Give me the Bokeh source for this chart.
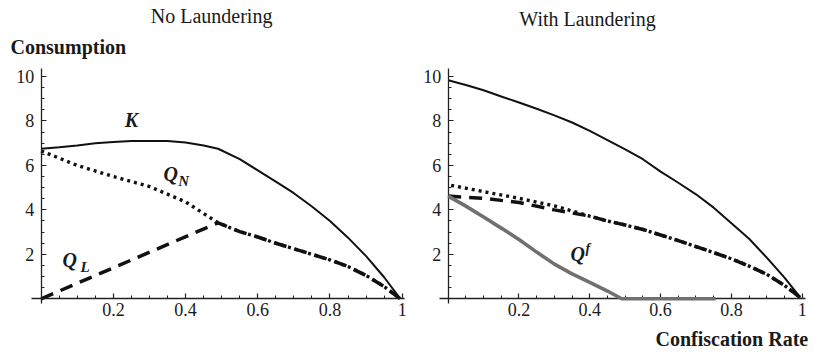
from bokeh.plotting import figure
from bokeh.layouts import row
from bokeh.models import FixedTicker, Label
from bokeh.embed import file_html
from bokeh.resources import INLINE

# ---------------- data ----------------
# Left panel: No Laundering
xl_K = [0, 0.05, 0.1, 0.15, 0.2, 0.25, 0.3, 0.35, 0.4, 0.45, 0.49, 0.55, 0.6, 0.65, 0.7, 0.75, 0.8, 0.85, 0.9, 0.95, 0.995]
K_left = [6.75, 6.82, 6.9, 7.0, 7.05, 7.1, 7.1, 7.1, 7.03, 6.9, 6.75, 6.28, 5.78, 5.27, 4.75, 4.15, 3.5, 2.75, 1.92, 0.97, 0.0]

xl_QN = [0, 0.1, 0.2, 0.3, 0.4, 0.49, 0.55, 0.6, 0.65, 0.7, 0.75, 0.8, 0.85, 0.9, 0.95, 0.995]
QN_left = [6.65, 6.0, 5.5, 5.05, 4.36, 3.42, 3.02, 2.78, 2.5, 2.25, 2.0, 1.75, 1.45, 1.05, 0.55, 0.0]

xl_QL = [0, 0.49, 0.55, 0.6, 0.65, 0.7, 0.75, 0.8, 0.85, 0.9, 0.95, 0.995]
QL_left = [0.0, 3.42, 3.02, 2.78, 2.5, 2.25, 2.0, 1.75, 1.45, 1.05, 0.55, 0.0]

# Right panel: With Laundering
xr_K = [0, 0.05, 0.1, 0.15, 0.2, 0.25, 0.3, 0.35, 0.4, 0.45, 0.5, 0.55, 0.6, 0.65, 0.7, 0.75, 0.8, 0.85, 0.9, 0.95, 0.995]
K_right = [9.83, 9.62, 9.38, 9.1, 8.83, 8.55, 8.25, 7.93, 7.55, 7.14, 6.72, 6.28, 5.72, 5.22, 4.7, 4.1, 3.4, 2.7, 1.85, 0.95, 0.05]

xr_Q = [0, 0.1, 0.2, 0.3, 0.4, 0.45, 0.5, 0.55, 0.6, 0.65, 0.7, 0.75, 0.8, 0.85, 0.9, 0.95, 0.995]
QN_right = [5.13, 4.82, 4.52, 4.18, 3.72, 3.5, 3.32, 3.12, 2.87, 2.62, 2.35, 2.08, 1.8, 1.47, 1.1, 0.6, 0.05]
QL_right = [4.62, 4.52, 4.33, 4.0, 3.72, 3.5, 3.32, 3.12, 2.87, 2.62, 2.35, 2.08, 1.8, 1.47, 1.1, 0.6, 0.05]

xr_Qf = [0, 0.05, 0.1, 0.15, 0.2, 0.25, 0.3, 0.35, 0.4, 0.45, 0.49, 0.55, 0.6, 0.65, 0.7, 0.755]
Qf_right = [4.62, 4.17, 3.68, 3.18, 2.67, 2.1, 1.56, 1.12, 0.74, 0.35, 0.0, 0.0, 0.0, 0.0, 0.0, 0.0]

# ticks
x_ticks = [0.2, 0.4, 0.6, 0.8, 1.0]
x_tick_labels = ["0.2", "0.4", "0.6", "0.8", "1"]
y_ticks = [2, 4, 6, 8, 10]
y_tick_labels = ["2", "4", "6", "8", "10"]

# ---------------- styling ----------------
SERIF = "Liberation Serif"
TXT = "#1a1a1a"
LINE = "#111111"
GRAY = "#707070"
H = 350
Y_RANGE = (-2.326, 13.419)
Y_BOUNDS = (-0.21, 10.36)
PX_PER_Y = H / (Y_RANGE[1] - Y_RANGE[0])


def make_fig(width, xr, xbounds):
    p = figure(width=width, height=H, x_range=xr, y_range=Y_RANGE,
               output_backend="svg", toolbar_location=None,
               min_border_left=0, min_border_right=0,
               min_border_top=0, min_border_bottom=0)
    p.outline_line_color = None
    p.xgrid.visible = False
    p.ygrid.visible = False
    p.background_fill_color = "white"
    p.border_fill_color = "white"

    xa = p.xaxis[0]
    ya = p.yaxis[0]
    xa.fixed_location = 0
    ya.fixed_location = 0
    xa.bounds = xbounds
    ya.bounds = Y_BOUNDS
    xa.ticker = FixedTicker(ticks=x_ticks,
                            minor_ticks=[round(0.05 * i, 2) for i in range(1, 21)])
    ya.ticker = FixedTicker(ticks=y_ticks,
                            minor_ticks=[0.5 * i for i in range(1, 21)])
    xa.major_label_overrides = dict(zip(x_ticks, x_tick_labels))
    ya.major_label_overrides = dict(zip(y_ticks, y_tick_labels))
    for ax in (xa, ya):
        ax.axis_line_color = "#222222"
        ax.axis_line_width = 1.3
        ax.major_tick_line_color = "#222222"
        ax.minor_tick_line_color = "#222222"
        ax.major_tick_line_width = 1.2
        ax.minor_tick_line_width = 1.0
        ax.major_tick_in = 5
        ax.major_tick_out = 0
        ax.minor_tick_in = 3
        ax.minor_tick_out = 0
        ax.major_label_text_font = SERIF
        ax.major_label_text_font_size = "18px"
        ax.major_label_text_color = TXT
    xa.major_label_text_align = "left"
    xa.major_label_standoff = 4
    ya.major_label_standoff = 7
    return p


def lbl(p, x, y, text, size=20, style="normal", align="left"):
    # baseline correction (Bokeh places alphabetic-baseline labels slightly low)
    y_adj = y + 0.35 * size / PX_PER_Y
    p.add_layout(Label(x=x, y=y_adj, text=text, text_font=SERIF,
                       text_font_size=f"{size}px",
                       text_font_style=style, text_color=TXT, text_align=align,
                       text_baseline="alphabetic"))


# ---------------- left panel ----------------
p1 = make_fig(408, (-0.1127, 1.0175), (-0.027, 1.006))
p1.line(xl_K, K_left, line_color=LINE, line_width=2)
p1.line(xl_QL, QL_left, line_color=LINE, line_width=3.5, line_dash="13 8")
p1.line(xl_QN, QN_left, line_color=LINE, line_width=3.4, line_dash="3 4")

lbl(p1, 0.472, 12.40, "No Laundering", align="center")
lbl(p1, -0.085, 10.99, "Consumption", style="bold")
lbl(p1, 0.25, 7.72, "K", style="bold italic", align="center")
lbl(p1, 0.339, 5.32, "Q", style="bold italic")
lbl(p1, 0.38, 5.05, "N", size=15, style="bold italic")
lbl(p1, 0.059, 1.43, "Q", style="bold italic")
lbl(p1, 0.109, 1.2, "L", size=15, style="bold italic")

# ---------------- right panel ----------------
p2 = make_fig(404, (-0.1121, 1.0291), (-0.0246, 1.009))
p2.line(xr_K, K_right, line_color=LINE, line_width=2)
p2.line(xr_Q, QL_right, line_color=LINE, line_width=3.5, line_dash="13 8")
p2.line(xr_Q, QN_right, line_color=LINE, line_width=3.4, line_dash="3 4",
        line_dash_offset=4)
p2.line(xr_Qf, Qf_right, line_color=GRAY, line_width=3.6, level="overlay")

lbl(p2, 0.3935, 12.25, "With Laundering", align="center")
lbl(p2, 1.017, -2.146, "Confiscation Rate", style="bold", align="right")
lbl(p2, 0.3455, 1.72, "Q", style="bold italic")
lbl(p2, 0.388, 2.04, "f", size=14, style="bold italic")

layout = row(p1, p2)
open("out.html", "w").write(file_html(layout, INLINE))
